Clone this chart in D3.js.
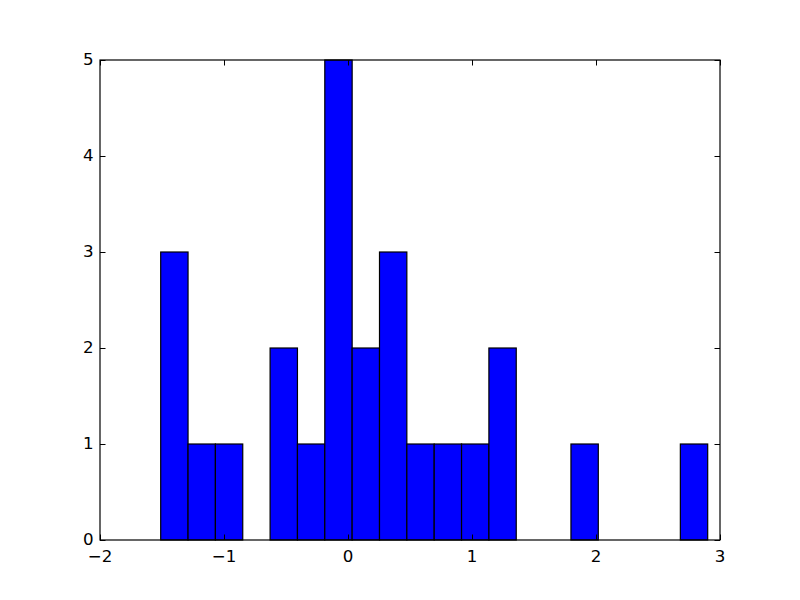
<!DOCTYPE html>
<html><head><meta charset="utf-8">
<script src="https://cdn.jsdelivr.net/npm/d3@7"></script>
<style>body{margin:0;background:#fff}svg{display:block}</style>
</head><body><svg id="c" width="800" height="600"></svg>
<script>
const binMin = -1.5105, binMax = 2.9008;
const counts = [3,1,1,0,2,1,5,2,3,1,1,1,2,0,0,1,0,0,0,1];
const xTicks = [-2,-1,0,1,2,3];
const yTicks = [0,1,2,3,4,5];

const svg = d3.select("#c");
const L=100,R=720,T=60,B=540;
const x = d3.scaleLinear().domain([-2,3]).range([L,R]);
const y = d3.scaleLinear().domain([0,5]).range([B,T]);
const w = (binMax-binMin)/counts.length;
const bins = counts.map((c,i)=>({x0:binMin+i*w,x1:binMin+(i+1)*w,c}));

svg.append("rect").attr("x",0).attr("y",0).attr("width",800).attr("height",600).attr("fill","#fff");
svg.append("g").selectAll("rect").data(bins.filter(b=>b.c>0)).join("rect")
  .attr("x",d=>x(d.x0)).attr("width",d=>x(d.x1)-x(d.x0))
  .attr("y",d=>y(d.c)).attr("height",d=>y(0)-y(d.c))
  .attr("fill","#0000ff").attr("stroke","#000").attr("stroke-width",1.2);

const tl=5.5, font="DejaVu Sans", fs=16.67;
const g = svg.append("g");
xTicks.forEach(t=>{
  const px=Math.round(x(t))+0.5;
  g.append("line").attr("x1",px).attr("x2",px).attr("y1",B).attr("y2",B-tl).attr("stroke","#000");
  g.append("line").attr("x1",px).attr("x2",px).attr("y1",T).attr("y2",T+tl).attr("stroke","#000");
  g.append("text").attr("x",x(t)).attr("y",B+22).attr("text-anchor","middle")
   .attr("font-family",font).attr("font-size",fs).text(t<0?"\u2212"+Math.abs(t):t);
});
yTicks.forEach(t=>{
  const py=Math.round(y(t))+0.5;
  g.append("line").attr("x1",L).attr("x2",L+tl).attr("y1",py).attr("y2",py).attr("stroke","#000");
  g.append("line").attr("x1",R).attr("x2",R-tl).attr("y1",py).attr("y2",py).attr("stroke","#000");
  g.append("text").attr("x",L-6.5).attr("y",y(t)+5).attr("text-anchor","end")
   .attr("font-family",font).attr("font-size",fs).text(t);
});
svg.append("rect").attr("x",L).attr("y",T).attr("width",R-L).attr("height",B-T)
  .attr("fill","none").attr("stroke","#000").attr("stroke-width",1.2);
</script></body></html>
